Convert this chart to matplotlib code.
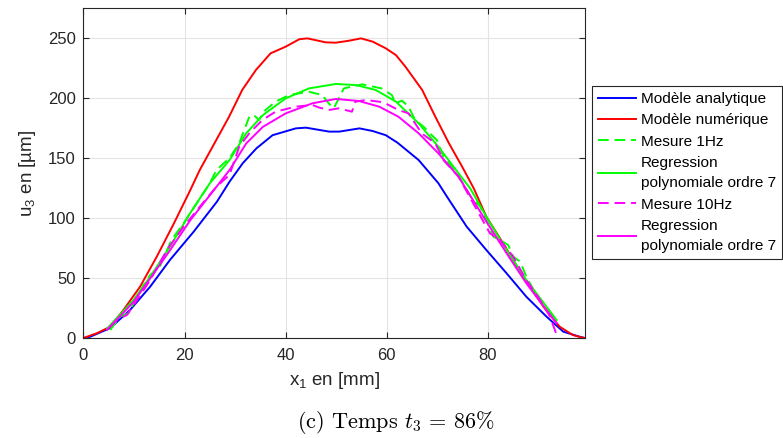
import matplotlib
matplotlib.use("Agg")
import matplotlib.pyplot as plt

plt.rcParams['font.family'] = ['Liberation Sans', 'DejaVu Sans']
plt.rcParams['mathtext.fontset'] = 'custom'
plt.rcParams['mathtext.rm'] = 'Liberation Sans'
plt.rcParams['mathtext.it'] = 'Liberation Sans:italic'

# valeurs (x1 en mm, u3 en um)
x_ana = [0, 1.3, 5.3, 9.2, 13.2, 17.1, 21.8, 26.4, 28.9, 31.5, 34.2, 37.4, 42.0, 44.0, 48.6, 50.6,
         54.6, 57.2, 59.8, 62.1, 66.3, 70.2, 71.9, 75.8, 79.7, 83.7, 87.6, 91.6, 94.9, 98.2, 99.2]
u_ana = [0, 1, 8.3, 23.3, 42.8, 65, 88.6, 113.6, 130.3, 145.6, 158, 169, 174.7, 175.3, 172, 172,
         174.7, 172.5, 169, 162.8, 148.3, 129, 117.8, 92.8, 73.3, 53.9, 34.4, 17.8, 5.3, 1, 0]

x_num = [0, 2.6, 5.3, 7.9, 11.2, 14.5, 17.9, 21.1, 23.0, 28.8, 31.4, 34.1, 37.0, 40.0, 42.7, 44.3,
         47.9, 49.9, 52.6, 54.9, 57.2, 59.8, 61.8, 63.7, 67.0, 69.6, 72.3, 74.9, 77.2, 79.7, 83.0,
         87.0, 91.0, 94.2, 96.8, 98.5, 99.2]
u_num = [0, 3.9, 9.4, 23.3, 42.8, 67.8, 95.6, 123, 140, 184.4, 206.7, 223.3, 237.2, 242.8, 249, 249.7,
         246.4, 246.1, 247.8, 249.7, 247, 241.4, 235.8, 226, 206.7, 184.4, 162.2, 142.8, 124.7, 101, 79,
         51, 26, 9.4, 2.5, 0.5, 0]

x_m1 = [5.3, 7.2, 8.9, 10.6, 11.9, 13.2, 15.1, 17.4, 19.8, 22.4, 25.0, 26.3, 28.9, 30.8, 32.8, 33.7,
        34.7, 36.0, 38.0, 40.7, 44.6, 47.2, 48.5, 49.5, 51.5, 55.1, 59.0, 61.0, 61.7, 63.0, 64.3, 65.6,
        67.3, 68.9, 69.9, 71.2, 73.5, 76.6, 78.5, 81.1, 82.4, 84.0, 85.0, 86.4, 87.6, 89.6, 91.3, 93.6]
u_m1 = [6.7, 17.8, 20.6, 34.4, 44.2, 52.5, 59.4, 81.7, 95.6, 112.2, 129, 140, 150, 162.2, 184.4, 185.8,
        181.7, 190, 197, 202.5, 205.2, 202.5, 195.6, 191.4, 208, 211.4, 208, 202.5, 195.6, 197.8, 192.8, 181.7,
        176, 169, 165, 151, 140, 117.8, 109.4, 84.4, 81.7, 77.5, 67.8, 63.6, 51, 35.8, 27.5, 13.6]

x_r1 = [4.7, 9.9, 13.2, 17.1, 21.1, 25.0, 28.9, 32.2, 35.5, 40.0, 44.6, 49.9, 53.9, 57.8, 61.8,
        66.3, 70.2, 74.2, 76.5, 79.7, 83.7, 87.6, 91.6, 93.6]
u_r1 = [8, 31.7, 51, 76, 104, 129, 148.3, 170.6, 185.8, 199.7, 208, 211.7, 210.8, 206.7, 197,
        178.9, 159.4, 137.2, 124.7, 101, 73.3, 48.3, 26, 15]

x_m10 = [5.3, 6.6, 8.6, 10.6, 13.2, 16.5, 19.8, 23.0, 26.3, 28.9, 30.8, 32.8, 35.4, 38.0, 42.0, 45.3,
         46.5, 48.5, 50.5, 53.1, 53.8, 55.8, 58.4, 59.7, 62.3, 64.3, 65.6, 66.9, 69.6, 71.2, 74.2, 77.1,
         80.4, 82.4, 85.0, 87.6, 90.3, 92.3, 93.6]
u_m10 = [9.4, 15, 19.2, 31.7, 48.3, 73.3, 92.8, 109.4, 126.1, 136, 159.4, 170.6, 181.7, 188.6, 192.8, 194.2,
         192.2, 190, 191.4, 188.6, 197, 198.3, 197, 195.6, 190, 187.2, 178.9, 170.6, 162.2, 148.3, 134.4, 112.2,
         87.2, 81.7, 67.8, 48.3, 31.7, 17.8, 2.5]

x_r10 = [4.7, 9.9, 17.1, 21.1, 28.9, 32.2, 35.5, 40.0, 45.3, 49.9, 54.5, 58.5, 62.3, 66.3, 70.2,
         74.2, 79.1, 83.7, 87.6, 91.6, 93.6]
u_r10 = [7, 30, 73, 98, 140, 162.2, 176, 187.2, 195.6, 199.2, 197.5, 192.8, 184.4, 170.6, 153.9,
         134.4, 101, 70.6, 45.6, 23.3, 12.2]

labels = ['Modèle analytique', 'Modèle numérique', 'Mesure 1Hz',
          'Regression\npolynomiale ordre 7', 'Mesure 10Hz',
          'Regression\npolynomiale ordre 7']

fig = plt.figure(figsize=(7.83, 4.38), dpi=100)
ax = fig.add_axes([0.1066, 0.2283, 0.6405, 0.7534])

lw = 1.4
dash = (0, (5.5, 3))
ax.plot(x_ana, u_ana, color='#0000ff', lw=lw, label=labels[0])
ax.plot(x_num, u_num, color='#ff0000', lw=lw, label=labels[1])
ax.plot(x_m1, u_m1, color='#00ff00', lw=lw, ls=dash, label=labels[2])
ax.plot(x_r1, u_r1, color='#00ff00', lw=lw, label=labels[3])
ax.plot(x_m10, u_m10, color='#ff00ff', lw=lw, ls=dash, label=labels[4])
ax.plot(x_r10, u_r10, color='#ff00ff', lw=lw, label=labels[5])

ax.set_xlim(0, 99.2)
ax.set_ylim(0, 275)
ax.set_xticks([0, 20, 40, 60, 80])
ax.set_yticks([0, 50, 100, 150, 200, 250])
ax.grid(True, color='#e3e3e3', lw=0.8)
ax.set_axisbelow(True)
for s in ax.spines.values():
    s.set_color('#262626')
    s.set_linewidth(0.8)
ax.tick_params(direction='in', top=True, right=True, length=4, width=0.8,
               color='#262626', labelcolor='#262626', labelsize=12)
ax.tick_params(axis='x', pad=7)
ax.tick_params(axis='y', pad=5.5)

ax.set_xlabel('x$_1$ en [mm]', fontsize=13.5, color='#262626', labelpad=5)
ax.set_ylabel('u$_3$ en [µm]', fontsize=13.5, color='#262626', labelpad=7)

leg = fig.legend(loc='upper left', bbox_to_anchor=(0.756, 0.8037),
                 bbox_transform=fig.transFigure, fontsize=11.1,
                 fancybox=False, framealpha=1, edgecolor='#262626',
                 handlelength=2.45, handletextpad=0.32, labelspacing=0.47,
                 borderpad=0.4, borderaxespad=0)
leg.get_frame().set_linewidth(0.8)
for t in leg.get_texts():
    t.set_linespacing(1.58)

fig.text(0.506, 0.035, r'(c) Temps $t_3\,=\,86\%$', fontsize=16,
         fontname='cmr10', math_fontfamily='cm', ha='center', va='center')

fig.savefig('out.png', dpi=100)
